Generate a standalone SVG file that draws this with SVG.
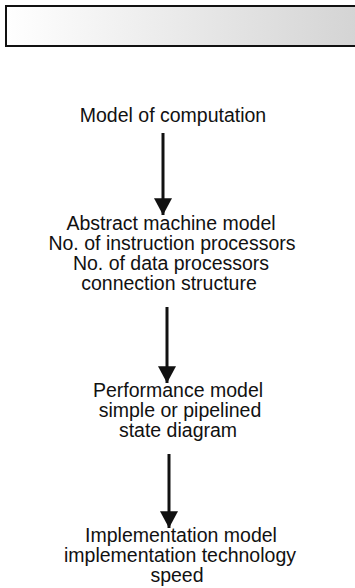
<svg xmlns="http://www.w3.org/2000/svg" width="355" height="588" viewBox="0 0 355 588">
<style>
.t{font-family:"Liberation Sans",Arial,sans-serif;font-size:19.5px;fill:#111;text-anchor:middle}
.c{stroke:#111;stroke-width:3;fill:none}
</style>
<defs>
<linearGradient id="g" x1="0" y1="0" x2="1" y2="0">
<stop offset="0" stop-color="#ffffff"/>
<stop offset="0.3" stop-color="#f2f2f2"/>
<stop offset="1" stop-color="#d4d4d4"/>
</linearGradient>
<marker id="ah" markerWidth="6" markerHeight="6" refX="5.6" refY="3" orient="auto" markerUnits="strokeWidth">
<path d="M0,0 L5.6,3 L0,6 Z" fill="#111"/>
</marker>
</defs>
<rect x="6" y="6" width="352" height="40" fill="url(#g)" stroke="#111" stroke-width="2"/>
<g id="n1"><text class="t" x="173" y="122">Model of computation</text></g>
<g id="n2">
<text class="t" x="171" y="230">Abstract machine model</text>
<text class="t" x="172" y="250">No. of instruction processors</text>
<text class="t" x="171" y="270">No. of data processors</text>
<text class="t" x="169" y="290">connection structure</text>
</g>
<g id="n3">
<text class="t" x="178" y="397">Performance model</text>
<text class="t" x="180" y="417">simple or pipelined</text>
<text class="t" x="178" y="437">state diagram</text>
</g>
<g id="n4">
<text class="t" x="181" y="542">Implementation model</text>
<text class="t" x="180" y="562">implementation technology</text>
<text class="t" x="177" y="582">speed</text>
</g>
<g id="connectors">
<line class="c" x1="163" y1="133" x2="163" y2="215" marker-end="url(#ah)"/>
<line class="c" x1="167" y1="307" x2="167" y2="383" marker-end="url(#ah)"/>
<line class="c" x1="169" y1="454" x2="169" y2="528" marker-end="url(#ah)"/>
</g>
</svg>
